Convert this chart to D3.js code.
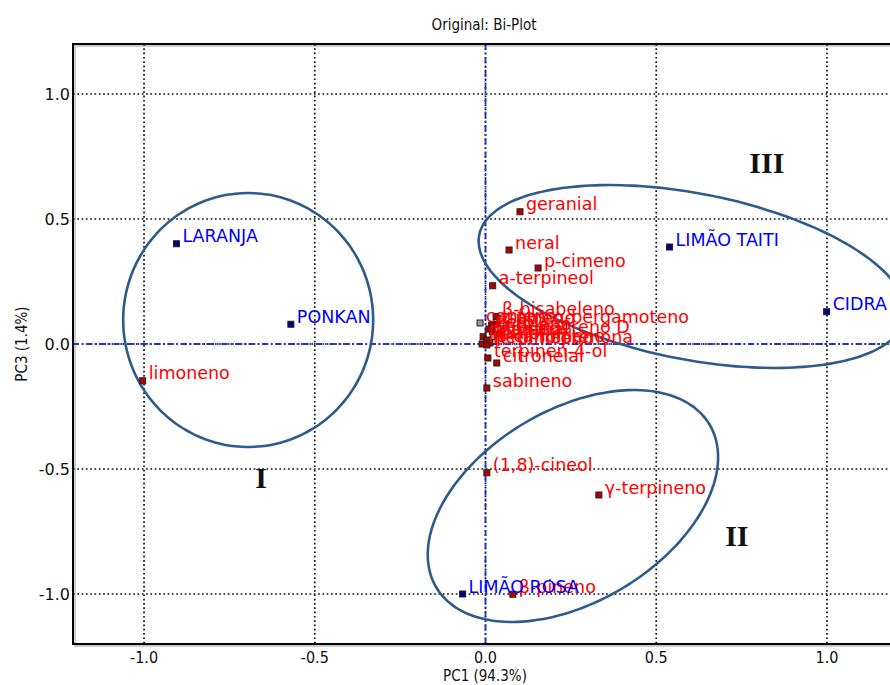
<!DOCTYPE html>
<html><head><meta charset="utf-8">
<script src="https://cdn.jsdelivr.net/npm/d3@7"></script>
<style>body{margin:0;background:#fff;overflow:hidden}</style>
</head><body>
<svg id="c" width="890" height="685"></svg>
<script>
// ---- data ----
const title = "Original: Bi-Plot";
const xLabel = "PC1 (94.3%)";
const yLabel = "PC3 (1.4%)";
const xTicks = [-1.0, -0.5, 0.0, 0.5, 1.0];
const yTicks = [-1.0, -0.5, 0.0, 0.5, 1.0];

const sampleNames = ["LARANJA", "PONKAN", "LIMÃO TAITI", "CIDRA", "LIMÃO ROSA"];
const samplePC1 = [-0.905, -0.570, 0.539, 0.999, -0.067];
const samplePC3 = [0.401, 0.079, 0.388, 0.129, -1.000];

const varNames = ["limoneno", "geranial", "neral", "p-cimeno", "a-terpineol", "sabineno",
  "(1,8)-cineol", "γ-terpineno", "β-pineno",
  "β-bisabeleno", "trans-α-bergamoteno", "canfeno", "germacreno D", "α-pineno", "mirceno",
  "linalol", "β-cariofileno", "metil-heptenona", "terpinoleno", "α-tujeno", "nerol", "decanal",
  "terpinen-4-ol", "citronelal"];
const varPC1 = [-1.004, 0.101, 0.069, 0.154, 0.021, 0.004, 0.004, 0.332, 0.080,
  0.031, 0.031, -0.016, 0.040, 0.018, -0.007, 0.004, 0.013, -0.010, 0.004, 0.020, 0.010, 0.025,
  0.007, 0.033];
const varPC3 = [-0.147, 0.529, 0.376, 0.304, 0.233, -0.176, -0.515, -0.604, -1.001,
  0.110, 0.080, 0.084, 0.040, 0.076, 0.029, 0.016, 0.004, 0.000, -0.004, 0.050, 0.060, 0.030,
  -0.056, -0.076];
const varGray = [false, false, false, false, false, false, false, false, false,
  false, false, true, false, false, false, false, false, false, false, false, false, true,
  false, false];

// group ellipses (center and two conjugate semi-axis vectors, PC units)
const groupNames = ["I", "II", "III"];
const ellCX = [-0.695, 0.256, 0.605];
const ellCY = [0.096, -0.648, 0.270];
const ellAX = [0.366, 0.400, 0.623];
const ellAY = [0.000, 0.326, -0.168];
const ellBX = [0.000, 0.144, -0.050];
const ellBY = [0.508, -0.330, -0.325];
const groupLabelX = [-0.657, 0.736, 0.824];
const groupLabelY = [-0.536, -0.768, 0.724];

// ---- drawing ----
const svg = d3.select("#c");
const L = 73, R = 898, T = 44, B = 644;
const x = d3.scaleLinear().domain([-1.208, 1.208]).range([L, R]);
const y = d3.scaleLinear().domain([-1.2, 1.2]).range([B, T]);

const sans = "'DejaVu Sans', sans-serif";
const narrow = "'Liberation Sans Narrow', 'DejaVu Sans Condensed', 'Liberation Sans', sans-serif";

svg.append("text").attr("x", 484).attr("y", 30).attr("text-anchor", "middle")
  .attr("font-family", narrow).attr("font-size", 15).attr("fill", "#111").text(title);

// shadow & frame
svg.append("rect").attr("x", L + 2).attr("y", T + 2).attr("width", R - L).attr("height", B - T)
  .attr("fill", "none").attr("stroke", "#ccc").attr("stroke-width", 2);

const g = svg.append("g");
// grid lines
g.selectAll("line.gx").data(xTicks).join("line")
  .attr("x1", d => x(d)).attr("x2", d => x(d)).attr("y1", T).attr("y2", B)
  .attr("stroke", "#111").attr("stroke-width", 1.7).attr("stroke-dasharray", "1.7,2.6");
g.selectAll("line.gy").data(yTicks).join("line")
  .attr("y1", d => y(d)).attr("y2", d => y(d)).attr("x1", L).attr("x2", R)
  .attr("stroke", "#111").attr("stroke-width", 1.7).attr("stroke-dasharray", "1.7,2.6");
// zero lines, blue dash-dot
g.append("line").attr("x1", x(0)).attr("x2", x(0)).attr("y1", T).attr("y2", B)
  .attr("stroke", "#2233cc").attr("stroke-width", 1.8).attr("stroke-dasharray", "6,3,1.5,3");
g.append("line").attr("y1", y(0)).attr("y2", y(0)).attr("x1", L).attr("x2", R)
  .attr("stroke", "#2233cc").attr("stroke-width", 1.8).attr("stroke-dasharray", "6,3,1.5,3");

// ellipses
const tt = d3.range(0, 360, 3).map(d => d * Math.PI / 180);
const line = d3.line().curve(d3.curveCardinalClosed);
groupNames.forEach((n, i) => {
  const pts = tt.map(t => [
    x(ellCX[i] + Math.cos(t) * ellAX[i] + Math.sin(t) * ellBX[i]),
    y(ellCY[i] + Math.cos(t) * ellAY[i] + Math.sin(t) * ellBY[i])]);
  g.append("path").attr("d", line(pts)).attr("fill", "none")
    .attr("stroke", "#2e5b8c").attr("stroke-width", 2.6);
  g.append("text").attr("x", x(groupLabelX[i])).attr("y", y(groupLabelY[i]) + 10)
    .attr("text-anchor", "middle").attr("font-family", "'Liberation Serif', 'DejaVu Serif', serif")
    .attr("font-weight", "bold").attr("font-size", 30).attr("fill", "#111").text(n);
});

// variable points
const vars = varNames.map((n, i) => ({ n, px: varPC1[i], py: varPC3[i], gray: varGray[i] }));
g.selectAll("rect.v").data(vars).join("rect")
  .attr("x", d => x(d.px) - 3).attr("y", d => y(d.py) - 3).attr("width", 6).attr("height", 6)
  .attr("fill", d => d.gray ? "#9a9a9a" : "#b00000").attr("stroke", "#222").attr("stroke-width", 1);
g.selectAll("text.v").data(vars).join("text")
  .attr("x", d => x(d.px) + 6).attr("y", d => y(d.py) - 1.5)
  .attr("font-family", sans).attr("font-size", 17.5).attr("fill", "#ff0000").text(d => d.n);

// sample points
const samples = sampleNames.map((n, i) => ({ n, px: samplePC1[i], py: samplePC3[i] }));
g.selectAll("rect.s").data(samples).join("rect")
  .attr("x", d => x(d.px) - 3).attr("y", d => y(d.py) - 3).attr("width", 6).attr("height", 6)
  .attr("fill", "#000080").attr("stroke", "#222").attr("stroke-width", 1);
g.selectAll("text.s").data(samples).join("text")
  .attr("x", d => x(d.px) + 6).attr("y", d => y(d.py) - 1.5)
  .attr("font-family", sans).attr("font-size", 17.5).attr("fill", "#0000ff").text(d => d.n);

// frame
svg.append("rect").attr("x", L).attr("y", T).attr("width", R - L).attr("height", B - T)
  .attr("fill", "none").attr("stroke", "#000").attr("stroke-width", 2);

// tick labels (ASCII hyphen minus, as in the reference)
const fmt = d => d3.format(".1f")(d).replace("\u2212", "-");
svg.selectAll("text.xt").data(xTicks).join("text")
  .attr("x", d => x(d)).attr("y", 663).attr("text-anchor", "middle")
  .attr("font-family", narrow).attr("font-size", 16).attr("fill", "#111").text(d => fmt(d));
svg.selectAll("text.yt").data(yTicks).join("text")
  .attr("x", 70).attr("y", d => y(d) + 5.5).attr("text-anchor", "end")
  .attr("font-family", sans).attr("font-size", 16).attr("fill", "#111").text(d => fmt(d));

svg.append("text").attr("x", 485).attr("y", 681).attr("text-anchor", "middle")
  .attr("font-family", narrow).attr("font-size", 15).attr("fill", "#111").text(xLabel);
svg.append("text").attr("transform", "translate(27,344) rotate(-90)").attr("text-anchor", "middle")
  .attr("font-family", narrow).attr("font-size", 15).attr("fill", "#111").text(yLabel);
</script>
</body></html>
